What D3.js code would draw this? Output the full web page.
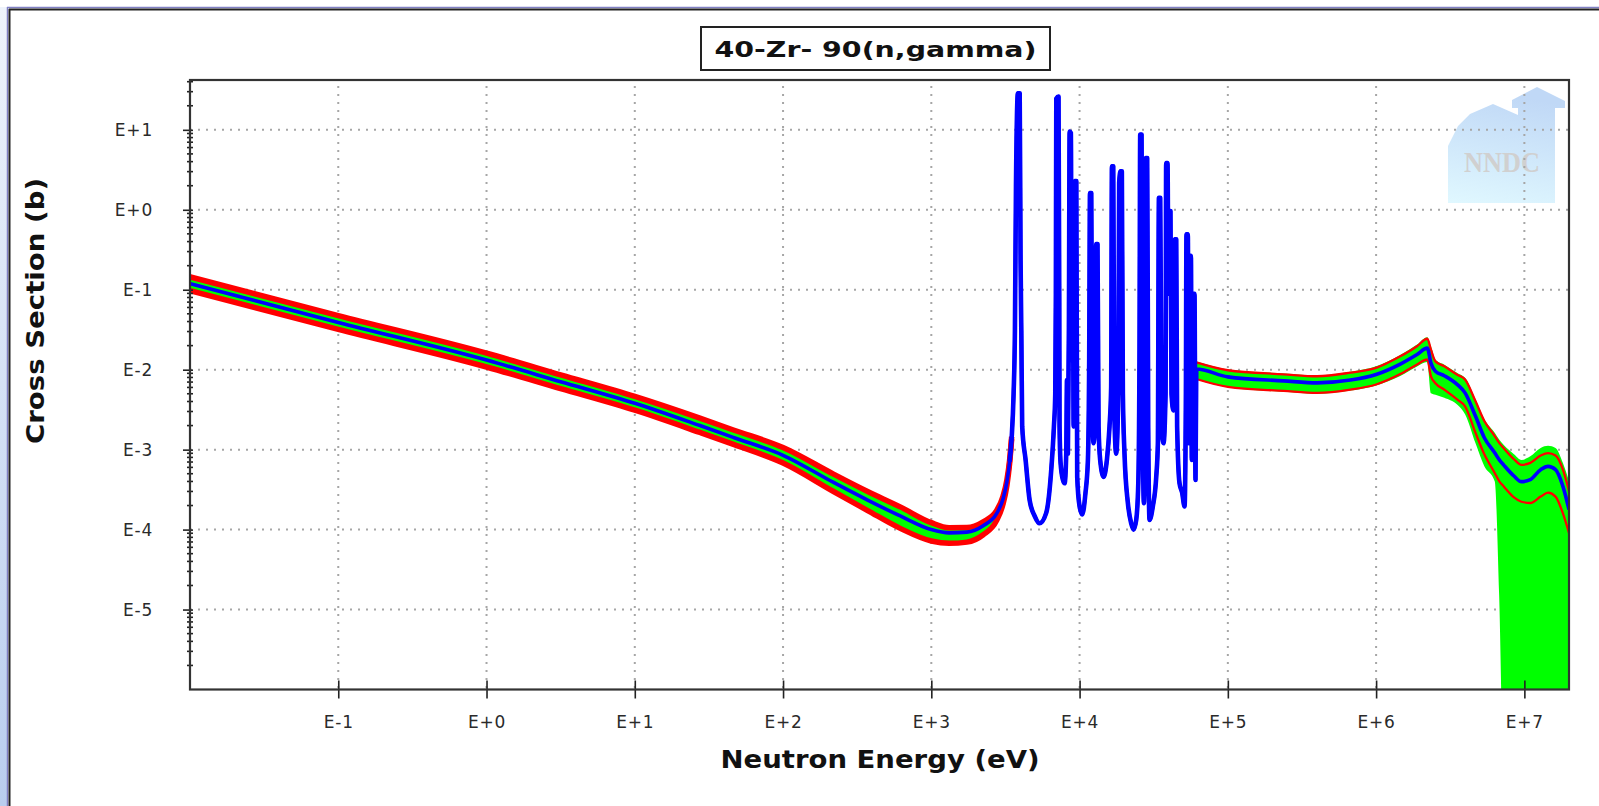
<!DOCTYPE html>
<html>
<head>
<meta charset="utf-8">
<script src="https://cdn.jsdelivr.net/npm/d3@7"></script>
<style>
  html, body { margin: 0; padding: 0; background: #ffffff; overflow: hidden; }
  svg { display: block; }
</style>
</head>
<body>
<svg id="chart" width="1599" height="806"></svg>
<script>
// ---------------- DATA ----------------
const chartTitle = "40-Zr- 90(n,gamma)";
const xAxisTitle = "Neutron Energy (eV)";
const yAxisTitle = "Cross Section (b)";

const xTickValues = [1e-1, 1e0, 1e1, 1e2, 1e3, 1e4, 1e5, 1e6, 1e7];
const xTickLabels = ["E-1", "E+0", "E+1", "E+2", "E+3", "E+4", "E+5", "E+6", "E+7"];
const yTickValues = [1e1, 1e0, 1e-1, 1e-2, 1e-3, 1e-4, 1e-5];
const yTickLabels = ["E+1", "E+0", "E-1", "E-2", "E-3", "E-4", "E-5"];

// evaluated cross section (eV, barns)
const energy = [
  0.01, 0.1, 1, 3.16, 10, 27.5, 46.8, 100, 219, 372, 617, 1000, 1318, 1738, 2239, 2754, 3041, 3236, 3373,
  3483, 3589, 3664, 3724, 3837, 3945, 4000, 4046, 4102, 4325, 4603, 4977, 5370, 5957, 6442, 6714, 6855, 6918, 6966,
  7211, 7295, 7328, 7447, 7727, 7925, 8128, 8222, 8337, 8472, 8570, 8750, 8831, 9016, 9120, 9311, 9506, 9638,
  10000, 10420, 10960, 11380, 11610, 11750, 11990, 12160, 12420, 12680, 12940, 13210, 13430, 13770, 14520,
  15280, 15920, 16330, 16520, 16870, 17140, 17660, 18240, 18490, 18880, 19280, 19590, 20090, 21180, 22280,
  23120, 24100, 24890, 25350, 25640, 26180, 26610, 27160, 27730, 27990, 28580, 29040, 29650, 31190, 32890,
  33730, 34280, 34990, 35730, 36810, 38020, 38370, 39170, 39810, 40180, 41020, 41690, 42950, 43950, 44870,
  45500, 47210, 49200, 51050, 52120, 52600, 53700, 54580, 55210, 56360, 57150, 58340, 59570, 60530, 61240,
  1e5, 2.38e5, 4.01e5, 6.71e5, 1e6, 1.455e6, 1.888e6, 2.213e6, 2.344e6, 2.512e6, 2.884e6, 3.548e6, 3.981e6,
  4.677e6, 5.37e6, 6.31e6, 6.76e6, 7.24e6, 8.51e6, 9.55e6, 1.096e7, 1.288e7, 1.445e7, 1.622e7, 1.82e7, 2.0e7
];
const crossSection = [
  0.119, 0.0389, 0.01318, 0.00708, 0.0038, 0.0020, 0.00141, 8.5e-4, 3.89e-4, 2.34e-4, 1.48e-4, 1.0e-4, 9.1e-5, 9.3e-5, 1.12e-4, 1.58e-4, 2.4e-4, 3.98e-4, 7.08e-4,
  1.41e-3, 5.01e-3, 0.0316, 2.0, 28.6, 28.6, 0.229, 0.0309, 1.95e-3, 7.41e-4, 2.34e-4, 1.48e-4, 1.2e-4, 1.62e-4, 5.62e-4, 1.95e-3, 5.01e-3, 0.0891, 24.5,
  26.0, 0.0891, 1.95e-3, 6.76e-4, 4.17e-4, 3.8e-4, 8.91e-4, 7.41e-3, 8.91e-4, 0.0339, 9.55, 9.12, 0.0132, 0.275, 1.95e-3, 2.28, 2.28, 4.57e-4,
  1.95e-4, 1.55e-4, 2.88e-4, 7.41e-4, 0.0132, 1.62, 1.62, 5.01e-3, 1.2e-3, 1.95e-3, 0.372, 0.372, 1.95e-3, 7.41e-4, 4.57e-4,
  7.41e-4, 1.95e-3, 6.03e-3, 3.5, 3.5, 3.09e-3, 8.91e-4, 5.01e-3, 2.17, 3.02, 3.02, 5.01e-3, 8.91e-4, 2.14e-4, 1.2e-4,
  1.0e-4, 1.32e-4, 3.8e-4, 0.0132, 8.71, 8.71, 5.01e-3, 2.14e-4, 5.01e-3, 4.44, 4.44, 1.95e-3, 1.32e-4, 1.95e-4, 4.57e-4,
  1.2e-3, 1.41, 1.41, 1.95e-3, 1.2e-3, 5.01e-3, 3.85, 3.85, 0.0891, 0.962, 0.962, 5.01e-3, 3.09e-3, 0.427, 0.427,
  1.95e-3, 3.8e-4, 2.88e-4, 1.95e-4, 5.01e-3, 0.493, 0.493, 1.2e-3, 0.265, 0.265, 7.41e-4, 0.0891, 0.0891, 4.17e-4, 0.0102,
  8.13e-3, 7.24e-3, 6.84e-3, 7.41e-3, 8.71e-3, 0.01175, 0.01549, 0.01862, 0.0121, 9.55e-3, 8.41e-3, 6.46e-3, 5.13e-3,
  2.63e-3, 1.41e-3, 9.12e-4, 7.5e-4, 6.46e-4, 4.68e-4, 3.98e-4, 4.22e-4, 5.62e-4, 6.17e-4, 5.62e-4, 3.47e-4, 1.78e-4
];
// resolved-resonance range (drawn with the thicker pen)
const resonanceRange = [3373, 61240];

// uncertainty band below the resonance region (relative %, red bounds = green band edges)
const lowBandEnergy  = [0.01, 0.1, 1, 3.16, 10, 27.5, 46.8, 100, 219, 372, 617, 1000, 1318, 1738, 2239, 2754, 3041, 3236, 3373, 3483];
const lowBandUpPct   = [22, 22, 22, 22, 22, 24, 24, 25, 27, 28, 30, 22, 16, 14, 12, 9, 8, 6, 4, 3];
const lowBandDownPct = [18, 18, 18, 18, 18, 18, 18, 20, 23, 26, 30, 28, 26, 25, 23, 18, 14, 10, 6, 4];

// uncertainty band above the resonance region (relative %)
const highBandEnergy   = [61240, 1e5, 2.38e5, 4.01e5, 6.71e5, 1e6, 1.455e6, 1.888e6, 2.213e6, 2.344e6, 2.512e6, 2.884e6, 3.548e6, 3.981e6,
                          4.677e6, 5.37e6, 6.31e6, 6.76e6, 7.24e6, 8.51e6, 9.55e6, 1.096e7, 1.288e7, 1.445e7, 1.622e7, 1.82e7, 2.0e7];
const highRedUpPct     = [21, 21, 21, 21, 24, 21, 25, 27, 31, 47, 33, 31, 33, 47, 54, 62, 62, 62, 62, 62, 62, 62, 50, 47, 50, 62, 70];
const highRedDownPct   = [25, 25, 25, 25, 24, 25, 25, 25, 28, 32, 29, 33, 35, 32, 38, 38, 44, 46, 46, 46, 44, 49, 54, 53, 54, 54, 49];
const highGreenUpPct   = [24, 24, 24, 24, 27, 27, 30, 33, 37, 62, 40, 37, 40, 54, 62, 70, 78, 78, 78, 87, 87, 96, 87, 81, 87, 96, 126];
const highGreenDownPct = [26, 26, 27, 27, 26, 27, 29, 29, 33, 58, 49, 47, 44, 46, 54, 56, 56, 98, 100, 100, 100, 100, 100, 100, 100, 100, 100];

// ---------------- LAYOUT ----------------
const W = 1599, H = 806;
const plot = { left: 190, right: 1569, top: 80, bottom: 689.5 };
const x = d3.scaleLog().domain([1e-2, 2e7]).range([plot.left, plot.right]);
const y = d3.scaleLog().domain([1e-6, 42]).range([plot.bottom, plot.top]);
const yFloor = 1e-7;
const FONT = "'DejaVu Sans', 'Liberation Sans', sans-serif";

const svg = d3.select("#chart");
const defs = svg.append("defs");

const side = defs.append("linearGradient").attr("id", "sideGrad")
  .attr("x1", 0).attr("y1", 0).attr("x2", 0).attr("y2", 1);
side.append("stop").attr("offset", 0).attr("stop-color", "#eef3fb");
side.append("stop").attr("offset", 1).attr("stop-color", "#b9cdee");

const logoGrad = defs.append("linearGradient").attr("id", "logoGrad")
  .attr("x1", 0.2).attr("y1", 0).attr("x2", 0).attr("y2", 1);
logoGrad.append("stop").attr("offset", 0).attr("stop-color", "#c0d8f6");
logoGrad.append("stop").attr("offset", 1).attr("stop-color", "#e0f8ff");

defs.append("clipPath").attr("id", "plotClip").append("rect")
  .attr("x", plot.left).attr("y", plot.top)
  .attr("width", plot.right - plot.left).attr("height", plot.bottom - plot.top);

// window frame
svg.append("rect").attr("x", 0).attr("y", 7).attr("width", 7).attr("height", H - 7).attr("fill", "url(#sideGrad)");
svg.append("line").attr("x1", 7.5).attr("y1", 7).attr("x2", 7.5).attr("y2", H).attr("stroke", "#8080c4").attr("stroke-width", 1.5);
svg.append("line").attr("x1", 7).attr("y1", 7.5).attr("x2", W).attr("y2", 7.5).attr("stroke", "#8080c4").attr("stroke-width", 1.5);
svg.append("line").attr("x1", 9.5).attr("y1", 9).attr("x2", 9.5).attr("y2", H).attr("stroke", "#222").attr("stroke-width", 2);
svg.append("line").attr("x1", 9).attr("y1", 9.5).attr("x2", W).attr("y2", 9.5).attr("stroke", "#222").attr("stroke-width", 2);

// NNDC watermark (behind grid)
const logo = svg.append("g");
logo.append("polygon")
  .attr("points", [[1448, 203], [1448, 146], [1458, 126], [1470, 114], [1493, 104], [1518, 115], [1518, 108], [1512, 108], [1512, 100],
                   [1537, 87], [1565, 101], [1565, 108], [1555, 108], [1555, 203]].map(p => p.join(",")).join(" "))
  .attr("fill", "url(#logoGrad)");
logo.append("text").attr("x", 1502).attr("y", 172).attr("text-anchor", "middle")
  .attr("font-family", "'Liberation Serif', 'DejaVu Serif', serif").attr("font-weight", "bold")
  .attr("font-size", 30).attr("fill", "#d0d0d0").attr("textLength", 76).attr("lengthAdjust", "spacingAndGlyphs")
  .text("NNDC");

// grid
const grid = svg.append("g").attr("stroke", "#a6a6a6").attr("stroke-width", 2).attr("stroke-dasharray", "2 6");
grid.selectAll(".vg").data(xTickValues).join("line")
  .attr("x1", d => x(d)).attr("x2", d => x(d)).attr("y1", plot.top + 6).attr("y2", plot.bottom);
grid.selectAll(".hg").data(yTickValues).join("line")
  .attr("y1", d => y(d)).attr("y2", d => y(d)).attr("x1", plot.left).attr("x2", plot.right);

// ---------------- DATA MARKS ----------------
const sigmaAt = e => crossSection[energy.indexOf(e)];
const clampLo = v => Math.max(v, yFloor);

const lowBand = lowBandEnergy.map((e, i) => ({
  e, hi: sigmaAt(e) * (1 + lowBandUpPct[i] / 100), lo: clampLo(sigmaAt(e) * (1 - lowBandDownPct[i] / 100))
}));
const highBand = highBandEnergy.map((e, i) => ({
  e,
  rHi: sigmaAt(e) * (1 + highRedUpPct[i] / 100),
  rLo: clampLo(sigmaAt(e) * (1 - highRedDownPct[i] / 100)),
  gHi: sigmaAt(e) * (1 + highGreenUpPct[i] / 100),
  gLo: clampLo(sigmaAt(e) * (1 - highGreenDownPct[i] / 100))
}));

const marks = svg.append("g").attr("clip-path", "url(#plotClip)");
const curve = d3.curveMonotoneX;

// green bands
marks.append("path").datum(lowBand)
  .attr("d", d3.area().curve(curve).x(d => x(d.e)).y0(d => y(d.lo)).y1(d => y(d.hi)))
  .attr("fill", "#00ff00");
marks.append("path").datum(highBand)
  .attr("d", d3.area().curve(curve).x(d => x(d.e)).y0(d => y(d.gLo)).y1(d => y(d.gHi)))
  .attr("fill", "#00ff00");

// red bounds
const redLine = key => d3.line().curve(curve).x(d => x(d.e)).y(d => y(d[key]));
["hi", "lo"].forEach(k => marks.append("path").datum(lowBand).attr("d", redLine(k))
  .attr("fill", "none").attr("stroke", "#ff0000").attr("stroke-width", 5.5).attr("stroke-linejoin", "round"));
["rHi", "rLo"].forEach(k => marks.append("path").datum(highBand).attr("d", redLine(k))
  .attr("fill", "none").attr("stroke", "#ff0000").attr("stroke-width", 2.3).attr("stroke-linejoin", "round"));

// evaluated curve
const pts = d3.zip(energy, crossSection);
const blueLine = d3.line().curve(curve).x(d => x(d[0])).y(d => y(d[1]));
marks.append("path").datum(pts)
  .attr("d", blueLine)
  .attr("fill", "none").attr("stroke", "#0000ff").attr("stroke-width", 3.6)
  .attr("stroke-linejoin", "round");
marks.append("path").datum(pts.filter(d => d[0] >= resonanceRange[0] && d[0] <= resonanceRange[1]))
  .attr("d", blueLine)
  .attr("fill", "none").attr("stroke", "#0000ff").attr("stroke-width", 4.6)
  .attr("stroke-linejoin", "round");

// ---------------- AXES ----------------
const tickColor = "#222";
const gy = svg.append("g").attr("transform", `translate(${plot.left},0)`)
  .call(d3.axisLeft(y).tickValues(yTickValues).tickFormat((d, i) => yTickLabels[i]).tickSize(7).tickSizeOuter(0).tickPadding(30));
gy.select(".domain").remove();
gy.selectAll(".tick line").attr("stroke", tickColor).attr("stroke-width", 1.6);
gy.selectAll(".tick").append("line").attr("x1", 0).attr("x2", 3).attr("stroke", tickColor).attr("stroke-width", 1.6);
gy.selectAll(".tick text").attr("font-family", FONT).attr("font-size", 17).attr("fill", "#2a2a2a")
  .attr("letter-spacing", 0.8);

// minor log ticks on the y axis
const yMinor = [];
for (let k = -6; k <= 1; k++) for (let m = 2; m <= 9; m++) { const v = m * Math.pow(10, k); if (v <= 42) yMinor.push(v); }
svg.append("g").selectAll("line").data(yMinor).join("line")
  .attr("x1", plot.left - 3).attr("x2", plot.left + 3)
  .attr("y1", d => y(d)).attr("y2", d => y(d))
  .attr("stroke", tickColor).attr("stroke-width", 1.6);

const gx = svg.append("g").attr("transform", `translate(0,${plot.bottom})`)
  .call(d3.axisBottom(x).tickValues(xTickValues).tickFormat((d, i) => xTickLabels[i]).tickSize(9).tickSizeOuter(0).tickPadding(17));
gx.select(".domain").remove();
gx.selectAll(".tick line").attr("stroke", tickColor).attr("stroke-width", 1.6);
gx.selectAll(".tick").append("line").attr("y1", 0).attr("y2", -9).attr("stroke", tickColor).attr("stroke-width", 1.6);
gx.selectAll(".tick text").attr("font-family", FONT).attr("font-size", 17).attr("fill", "#2a2a2a")
  .attr("letter-spacing", 0.8);

// plot frame
svg.append("rect").attr("x", plot.left).attr("y", plot.top)
  .attr("width", plot.right - plot.left).attr("height", plot.bottom - plot.top)
  .attr("fill", "none").attr("stroke", "#333").attr("stroke-width", 2.2);

// ---------------- TITLES ----------------
svg.append("rect").attr("x", 701).attr("y", 27).attr("width", 349).attr("height", 43)
  .attr("fill", "#fff").attr("stroke", "#222").attr("stroke-width", 2);
svg.append("text").attr("x", 875.5).attr("y", 56.5).attr("text-anchor", "middle")
  .attr("font-family", FONT).attr("font-weight", "bold").attr("font-size", 22).attr("fill", "#111")
  .attr("textLength", 322).attr("lengthAdjust", "spacingAndGlyphs")
  .text(chartTitle);

svg.append("text").attr("x", 880).attr("y", 768).attr("text-anchor", "middle")
  .attr("font-family", FONT).attr("font-weight", "bold").attr("font-size", 24).attr("fill", "#111")
  .attr("textLength", 319).attr("lengthAdjust", "spacingAndGlyphs")
  .text(xAxisTitle);

svg.append("text").attr("transform", "translate(44,311) rotate(-90)").attr("text-anchor", "middle")
  .attr("font-family", FONT).attr("font-weight", "bold").attr("font-size", 24).attr("fill", "#111")
  .attr("textLength", 266).attr("lengthAdjust", "spacingAndGlyphs")
  .text(yAxisTitle);
</script>
</body>
</html>
